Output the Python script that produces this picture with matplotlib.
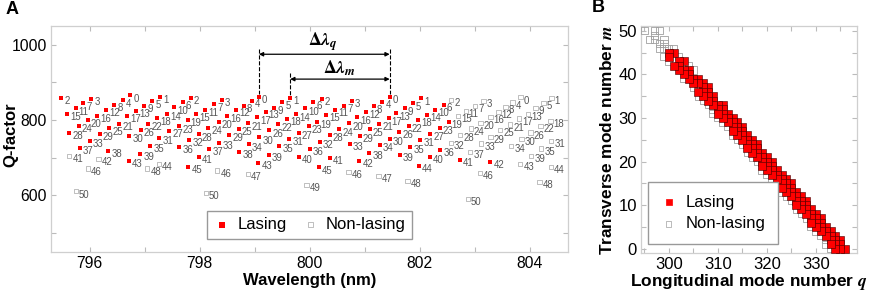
import matplotlib
matplotlib.use("Agg")
import matplotlib.pyplot as plt
import numpy as np

plt.rcParams['font.family'] = ['Liberation Sans', 'DejaVu Sans']
plt.rcParams['mathtext.fontset'] = 'stix'

# ---------------- data ----------------
# each mode: wavelength (nm), Q-factor, transverse number m, longitudinal number q, lasing flag
wavelength = [
    795.486, 796.031, 795.886, 795.746, 795.595,
    796.739, 796.606, 796.454, 796.298, 796.145, 795.971, 795.808, 795.632,
    797.289, 797.144, 796.993, 796.848, 796.690, 796.539, 796.358, 796.182, 796.007, 795.826, 795.632,
    797.841, 797.695, 797.543, 797.405, 797.223, 797.066, 796.933, 796.721, 796.345, 796.163, 795.971, 795.753,
    798.409, 798.264, 798.106, 797.937, 797.786, 797.628, 797.452, 797.271, 797.102, 796.920, 796.721,
    799.080, 798.948, 798.808, 798.663, 798.500, 798.349, 798.160, 797.986, 797.815, 797.634, 797.260, 797.053,
    799.649, 799.503, 799.358, 799.202, 799.044, 798.886, 798.717, 798.541, 798.360, 798.178, 797.986, 797.797,
    800.219, 800.066, 799.915, 799.757, 799.594, 799.431, 799.267, 799.086, 798.899, 798.723, 798.323, 798.113,
    800.769, 800.629, 800.465, 800.309, 800.139, 799.988, 799.807, 799.630, 799.449, 799.262, 799.068, 798.875,
    801.458, 801.326, 801.173, 801.023, 800.872, 800.720, 800.538, 800.369, 800.188, 800.006, 799.810,
    802.034, 801.881, 801.731, 801.580, 801.440, 801.264, 801.095, 800.914, 800.732, 800.364, 800.164, 799.946,
    802.578, 802.444, 802.288, 802.135, 801.972, 801.803, 801.634, 801.458, 801.277, 801.090, 800.908, 800.709,
    803.165, 803.010, 802.838, 802.698, 802.529, 802.366, 802.197, 802.017, 801.836, 801.645, 801.255,
    803.836, 803.691, 803.564, 803.437, 803.292, 803.110, 802.929, 802.738, 802.566, 802.379, 802.184, 801.990, 801.781,
    804.399, 804.254, 804.109, 803.972, 803.809, 803.646, 803.464, 803.292, 803.123, 802.923, 802.734,
    804.381, 804.199, 804.018, 803.854, 803.667, 803.286, 803.101, 802.880,
    804.394, 804.212, 804.031, 803.831,
    804.394, 804.181,
]
qfactor = [
    859.3, 855.9, 844.4, 831.1, 816.8,
    865.7, 852.4, 839.9, 827.4, 812.0, 799.2, 784.0, 766.2,
    862.0, 849.7, 838.0, 823.9, 810.6, 789.4, 777.9, 762.8, 744.1, 726.3, 705.0,
    859.3, 847.1, 833.8, 816.8, 804.5, 790.2, 773.4, 757.4, 719.4, 697.1, 671.5, 611.1,
    854.0, 841.8, 826.6, 815.2, 800.8, 783.2, 770.7, 752.9, 731.6, 709.6, 690.9,
    862.0, 850.5, 838.0, 826.6, 812.0, 795.5, 779.5, 762.0, 746.8, 729.0, 682.9, 671.5,
    859.3, 847.1, 832.7, 822.1, 807.2, 791.2, 776.9, 760.1, 740.7, 722.9, 701.6, 676.8,
    855.9, 847.1, 831.1, 815.2, 802.7, 788.6, 772.6, 754.0, 735.4, 715.7, 666.2, 606.6,
    851.3, 838.0, 826.6, 813.3, 795.5, 783.2, 765.4, 749.5, 730.8, 708.8, 687.5, 656.4,
    862.0, 848.7, 836.4, 822.1, 807.2, 791.2, 775.3, 760.1, 742.3, 724.7, 703.4,
    857.7, 844.4, 831.1, 817.8, 804.5, 789.4, 775.3, 757.4, 738.0, 698.9, 674.4, 627.9,
    853.2, 839.9, 827.4, 813.3, 800.0, 784.8, 768.9, 751.3, 733.5, 713.5, 691.5, 662.5,
    850.5, 838.0, 823.9, 811.4, 795.5, 779.5, 762.8, 746.8, 729.0, 707.7, 651.8,
    860.6, 847.1, 835.1, 822.6, 808.0, 793.4, 777.9, 760.1, 740.2, 722.1, 702.4, 679.0, 639.1,
    859.9, 845.2, 833.3, 816.0, 804.5, 788.6, 773.4, 756.1, 738.0, 715.7, 695.5,
    797.3, 784.8, 767.3, 749.5, 730.8, 689.1, 659.8, 589.9,
    744.9, 724.7, 704.2, 682.9,
    675.8, 635.9,
]
m_number = [
    2, 3, 7, 11, 15,
    0, 4, 8, 12, 16, 20, 24, 28,
    1, 5, 9, 13, 17, 21, 25, 29, 33, 37, 41,
    2, 6, 10, 14, 18, 22, 26, 30, 38, 42, 46, 50,
    3, 7, 11, 15, 19, 23, 27, 31, 35, 39, 43,
    0, 4, 8, 12, 16, 20, 24, 28, 32, 36, 44, 48,
    1, 5, 9, 13, 17, 21, 25, 29, 33, 37, 41, 45,
    2, 6, 10, 14, 18, 22, 26, 30, 34, 38, 46, 50,
    3, 7, 11, 15, 19, 23, 27, 31, 35, 39, 43, 47,
    0, 4, 8, 12, 16, 20, 24, 28, 32, 36, 40,
    1, 5, 9, 13, 17, 21, 25, 29, 33, 41, 45, 49,
    2, 6, 10, 14, 18, 22, 26, 30, 34, 38, 42, 46,
    3, 7, 11, 15, 19, 23, 27, 31, 35, 39, 47,
    0, 4, 8, 12, 16, 20, 24, 28, 32, 36, 40, 44, 48,
    1, 5, 9, 13, 17, 21, 25, 29, 33, 37, 41,
    18, 22, 26, 30, 34, 42, 46, 50,
    31, 35, 39, 43,
    44, 48,
]
q_number = [
    335, 334, 331, 328, 325,
    336, 333, 330, 327, 324, 321, 318, 315,
    335, 332, 329, 326, 323, 320, 317, 314, 311, 308, 305,
    334, 331, 328, 325, 322, 319, 316, 313, 307, 304, 301, 298,
    333, 330, 327, 324, 321, 318, 315, 312, 309, 306, 303,
    335, 332, 329, 326, 323, 320, 317, 314, 311, 308, 302, 299,
    334, 331, 328, 325, 322, 319, 316, 313, 310, 307, 304, 301,
    333, 330, 327, 324, 321, 318, 315, 312, 309, 306, 300, 297,
    332, 329, 326, 323, 320, 317, 314, 311, 308, 305, 302, 299,
    334, 331, 328, 325, 322, 319, 316, 313, 310, 307, 304,
    333, 330, 327, 324, 321, 318, 315, 312, 309, 303, 300, 297,
    332, 329, 326, 323, 320, 317, 314, 311, 308, 305, 302, 299,
    331, 328, 325, 322, 319, 316, 313, 310, 307, 304, 298,
    333, 330, 327, 324, 321, 318, 315, 312, 309, 306, 303, 300, 297,
    332, 329, 326, 323, 320, 317, 314, 311, 308, 305, 302,
    319, 316, 313, 310, 307, 301, 298, 295,
    309, 306, 303, 300,
    299, 296,
]
lasing = [
    1, 1, 1, 1, 1,
    1, 1, 1, 1, 1, 1, 1, 1,
    1, 1, 1, 1, 1, 1, 1, 1, 1, 1, 0,
    1, 1, 1, 1, 1, 1, 1, 1, 1, 0, 0, 0,
    1, 1, 1, 1, 1, 1, 1, 1, 1, 1, 1,
    1, 1, 1, 1, 1, 1, 1, 1, 1, 1, 0, 0,
    1, 1, 1, 1, 1, 1, 1, 1, 1, 1, 1, 1,
    1, 1, 1, 1, 1, 1, 1, 1, 1, 1, 0, 0,
    1, 1, 1, 1, 1, 1, 1, 1, 1, 1, 1, 0,
    1, 1, 1, 1, 1, 1, 1, 1, 1, 1, 1,
    1, 1, 1, 1, 1, 1, 1, 1, 1, 1, 1, 0,
    0, 1, 1, 1, 1, 1, 1, 1, 1, 1, 1, 0,
    0, 0, 0, 0, 1, 1, 1, 1, 1, 1, 0,
    0, 0, 0, 0, 0, 0, 0, 0, 0, 1, 1, 1, 0,
    0, 0, 0, 0, 0, 0, 0, 0, 0, 0, 1,
    0, 0, 0, 0, 0, 1, 0, 0,
    0, 0, 0, 0,
    0, 0,
]

wl = np.array(wavelength)
Qf = np.array(qfactor)
mm = np.array(m_number)
qq = np.array(q_number)
las = np.array(lasing, dtype=bool)

RED = '#ff0000'
GRAY = '#b4b4b4'
SPINE = '#cfcfcf'

fig = plt.figure(figsize=(8.72, 2.93), dpi=100)
axA = fig.add_axes([51/872, 1-252/293, (568-51)/872, (252-26)/293])
axB = fig.add_axes([641/872, 1-253/293, (857-641)/872, (253-26)/293])

def style(ax, fs):
    for s in ax.spines.values():
        s.set_color(SPINE)
        s.set_linewidth(0.9)
    ax.tick_params(which='both', direction='in', top=True, right=True,
                   color='#bbbbbb', labelsize=fs, length=3.5, width=0.8, pad=3)

# ---------------- panel A ----------------
nl = axA.scatter(wl[~las], Qf[~las], marker='s', s=9, facecolors='none',
                 edgecolors=GRAY, linewidths=0.6, zorder=3)
ls = axA.scatter(wl[las], Qf[las], marker='s', s=11, color=RED, linewidths=0,
                 zorder=4)
for x, y, m in zip(wl, Qf, mm):
    axA.annotate(str(m), (x, y), xytext=(2.2, -2.3), textcoords='offset points',
                 fontsize=6.9, color='#555555', ha='left', va='center', zorder=5)

axA.set_xlim(795.3, 804.7)
axA.set_ylim(450, 1050)
axA.set_xticks(np.arange(796, 805, 1))
axA.set_xticklabels(['796', '', '798', '', '800', '', '802', '', '804'])
axA.set_yticks(np.arange(500, 1001, 100))
axA.set_yticklabels(['', '600', '', '800', '', '1000'])
style(axA, 11.3)
axA.set_xlabel('Wavelength (nm)', fontsize=12, fontweight='bold', labelpad=1)
axA.set_ylabel('Q-factor', fontsize=12, fontweight='bold')
axA.yaxis.set_label_coords(-0.064, 0.52)

# Delta-lambda annotations
def find(mv, qv):
    i = np.where((mm == mv) & (qq == qv))[0][0]
    return wl[i], Qf[i]

x0a, y0a = find(0, 335)
x0b, y0b = find(0, 334)
x1, y1 = find(1, 334)
yq = 975
ym = 909
axA.plot([x0a, x0a], [988, y0a + 8], ls='--', color='k', lw=0.8, zorder=6)
axA.plot([x0b, x0b], [988, y0b + 8], ls='--', color='k', lw=0.8, zorder=6)
axA.plot([x1, x1], [926, y1 + 8], ls='--', color='k', lw=0.8, zorder=6)
axA.annotate('', xy=(x0a, yq), xytext=(x0b, yq),
             arrowprops=dict(arrowstyle='<|-|>', color='k', lw=0.9,
                             mutation_scale=6, shrinkA=0, shrinkB=0))
axA.annotate('', xy=(x1, ym), xytext=(x0b, ym),
             arrowprops=dict(arrowstyle='<|-|>', color='k', lw=0.9,
                             mutation_scale=6, shrinkA=0, shrinkB=0))
axA.text((x0a + x0b) / 2 - 0.02, yq + 2, r'$\mathbf{\Delta}\mathbfit{\lambda}_{\mathbfit{q}}$',
         fontsize=13, ha='center', va='bottom')
axA.text((x1 + x0b) / 2, ym + 2, r'$\mathbf{\Delta}\mathbfit{\lambda}_{\mathbfit{m}}$',
         fontsize=13, ha='center', va='bottom')

axA.legend([ls, nl], ['Lasing', 'Non-lasing'], loc='lower center',
           ncol=2, bbox_to_anchor=(0.5, 0.058), borderaxespad=0, fontsize=12,
           frameon=True, fancybox=False, edgecolor='#999999', handletextpad=0.45,
           handlelength=1.0, columnspacing=0.9, borderpad=0.4,
           markerscale=1.2, framealpha=1)

# ---------------- panel B ----------------
nlB = axB.scatter(qq[~las], mm[~las], marker='s', s=26, facecolors='none',
                  edgecolors='#a0a0a0', linewidths=0.6, zorder=3)
lsB = axB.scatter(qq[las], mm[las], marker='s', s=30, color=RED,
                  edgecolors='#400000', linewidths=0.4, zorder=4)
axB.set_xlim(294.3, 338.4)
axB.set_ylim(-1, 51.1)
axB.set_xticks(np.arange(295, 340, 5))
axB.set_xticklabels(['', '300', '', '310', '', '320', '', '330', ''])
axB.set_yticks(np.arange(0, 51, 5))
axB.set_yticklabels(['0', '', '10', '', '20', '', '30', '', '40', '', '50'])
style(axB, 12)
axB.set_xlabel(r'Longitudinal mode number $\mathbfit{q}$', fontsize=12.4,
               fontweight='bold', labelpad=0)
axB.set_ylabel(r'Transverse mode number $\mathbfit{m}$', fontsize=12.4,
               fontweight='bold', labelpad=2)
legB = axB.legend([lsB, nlB], ['Lasing', 'Non-lasing'], loc='lower left',
                  bbox_to_anchor=(0.032, 0.04), borderaxespad=0, fontsize=12,
                  frameon=True, fancybox=False, edgecolor='#999999', handletextpad=0.5,
                  handlelength=1.0, borderpad=0.75, markerscale=0.72,
                  labelspacing=0.4, framealpha=1)
for h in legB.legend_handles:
    h.set_linewidth(0.5)
    h.set_edgecolor('#a0a0a0' if h.get_facecolor().size == 0 or h.get_facecolor()[0][3] == 0 else RED)

fig.text(12/872, 1-10/293, 'A', fontsize=13, fontweight='bold', ha='center', va='center')
fig.text(598/872, 1-8/293, 'B', fontsize=13, fontweight='bold', ha='center', va='center')

fig.savefig('out.png', dpi=100)
